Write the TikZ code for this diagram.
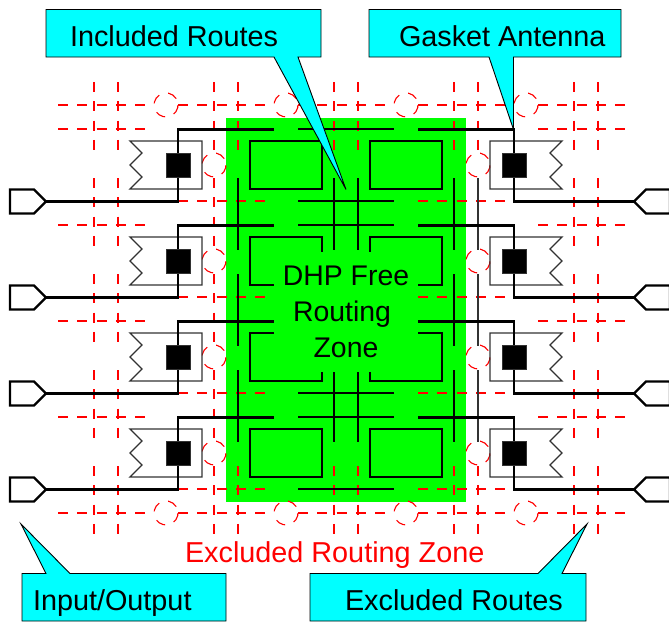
\documentclass[tikz,border=0pt]{standalone}
\usepackage{fontspec}
\setmainfont{Liberation Sans}
\usepackage{tikz}
\usetikzlibrary{positioning}
\usetikzlibrary{calc}
\definecolor{myzonegreen}{RGB}{0,255,0}
\definecolor{mycalloutcyan}{RGB}{0,255,255}
\definecolor{myzonered}{RGB}{255,0,0}
\definecolor{myantennagray}{RGB}{50,50,50}
\tikzset{
  excluded/.style={draw=myzonered,line width=1.1pt,dash pattern=on 10pt off 9.3pt},
  route/.style={draw=black,line width=2.4pt,line join=miter},
  thinroute/.style={draw=black,line width=1.2pt},
  grayroute/.style={draw=myantennagray,line width=1.4pt},
  antenna/.style={draw=myantennagray,line width=1.3pt},
  ioport/.style={draw=black,fill=white,line width=2.4pt},
  feedsquare/.style={shape=rectangle,minimum size=24pt,fill=black,draw=myantennagray,line width=0.5pt},
  callout/.style={draw=black,fill=mycalloutcyan,line width=0.9pt},
  biglabel/.style={anchor=base west,font=\fontsize{28.8}{34}\selectfont}
}
\begin{document}
\begin{tikzpicture}[x=1pt,y=-1pt,every node/.style={inner sep=0mm, outer sep=0mm}]
\useasboundingbox (0,0) rectangle (669,622);
% routing zone
\fill[myzonegreen] (226,118) rectangle (466,502);
% excluded routes
\foreach \yy in {105,513} {
  \foreach \xx in {58,178,298,418,538} {
    \draw[excluded] (\xx,\yy) -- ++(88,0);
  }
}
\foreach \yy in {129,225,321,417} {
  \foreach \xx in {58,538} {
    \draw[excluded] (\xx,\yy) -- ++(88,0);
  }
}
\foreach \yy in {201,297,393,489} {
  \foreach \xx in {178,418} {
    \draw[excluded] (\xx,\yy) -- ++(88,0);
  }
}
\foreach \xx in {94,118,214,574,598} {
  \foreach \yy in {82,178,274,370,466} {
    \draw[excluded] (\xx,\yy) -- ++(0,68);
  }
}
\foreach \xx in {238,334,358,454,478} {
  \foreach \yy in {82,466} {
    \draw[excluded] (\xx,\yy) -- ++(0,68);
  }
}
\foreach \xx in {166,286,406,526} {
  \foreach \yy in {105,513} {
    \draw[excluded] (\xx+10.2,\yy-6.4) arc[start angle=-32,delta angle=-360,radius=12];
  }
}
\foreach \xx in {214,478} {
  \foreach \yy in {165,261,357,453} {
    \draw[excluded] (\xx+10.2,\yy-6.4) arc[start angle=-32,delta angle=-360,radius=12];
  }
}
% included routes
\foreach \yy in {178,274,370} {
  \foreach \xx in {238,334,358,454} {
    \draw[thinroute] (\xx,\yy) -- ++(0,72);
  }
  \draw[grayroute] (478,\yy) -- ++(0,72);
}
% one row of pads and antennas
\foreach \r in {0,1,2,3} {
  \begin{scope}[shift={(0,96*\r)}]
    \draw[thinroute] (250,141) rectangle (322,189);
    \draw[thinroute] (370,141) rectangle (442,189);
    \draw[thinroute] (298,129) -- (394,129);
    \draw[thinroute] (298,201) -- (394,201);
    \draw[antenna] (202,141) -- (130,141) -- (142,153) -- (130,165) -- (142,177) -- (130,189) -- (202,189) -- cycle;
    \draw[antenna] (490,141) -- (562,141) -- (550,153) -- (562,165) -- (550,177) -- (562,189) -- (490,189) -- cycle;
    \coordinate (ioleft\r) at (46,201.5);
    \coordinate (iorigh\r) at (634,201.5);
    \coordinate (topleft\r) at (178,129.5);
    \coordinate (toprigh\r) at (514,129.5);
    \coordinate (endleft\r) at (274,129.5);
    \coordinate (endrigh\r) at (418,129.5);
    \draw[route] (ioleft\r) -| (topleft\r) -- (endleft\r);
    \draw[route] (iorigh\r) -| (toprigh\r) -- (endrigh\r);
    \draw[ioport] (10,189.5) -- (34,189.5) -- (ioleft\r) -- (34,213.5) -- (10,213.5) -- cycle;
    \draw[ioport] (670,189.5) -- (646,189.5) -- (iorigh\r) -- (646,213.5) -- (670,213.5) -- cycle;
    \node[feedsquare] (feedleft\r) at (178,165.5) {};
    \node[feedsquare] (feedrigh\r) at (514,165.5) {};
  \end{scope}
}
% labels
\node[fill=myzonegreen,minimum width=144pt,minimum height=120pt,align=center,font=\fontsize{28.4}{36}\selectfont] (freezone) at (346,312) {DHP Free\\\mbox{Routing\hspace{8pt}}\\Zone};
\node[biglabel,text=myzonered] (excludedzone) at (185,562.5) {Excluded Routing Zone};
% callouts
\draw[callout] (46,9.5) -- (321,9.5) -- (321,57) -- (298,57) -- (346,189.5) -- (274,57) -- (46,57) -- cycle;
\node[biglabel] (includedlabel) at (70,46) {Included Routes};
\draw[callout] (369,9.5) -- (621,9.5) -- (621,57) -- (513.5,57) -- (513.5,129.5) -- (489,57) -- (369,57) -- cycle;
\node[biglabel] (gasketlabel) at (399,46) {Gasket Antenna};
\draw[callout] (21,524) -- (70,573.5) -- (226,573.5) -- (226,621) -- (22,621) -- (22,573.5) -- (46,573.5) -- cycle;
\node[biglabel] (iolabel) at (33,610) {Input/Output};
\draw[callout] (587,524) -- (562,573.5) -- (586,573.5) -- (586,621) -- (310,621) -- (310,573.5) -- (538,573.5) -- cycle;
\node[biglabel] (excludedlabel) at (345,610) {Excluded Routes};
\end{tikzpicture}
\end{document}
